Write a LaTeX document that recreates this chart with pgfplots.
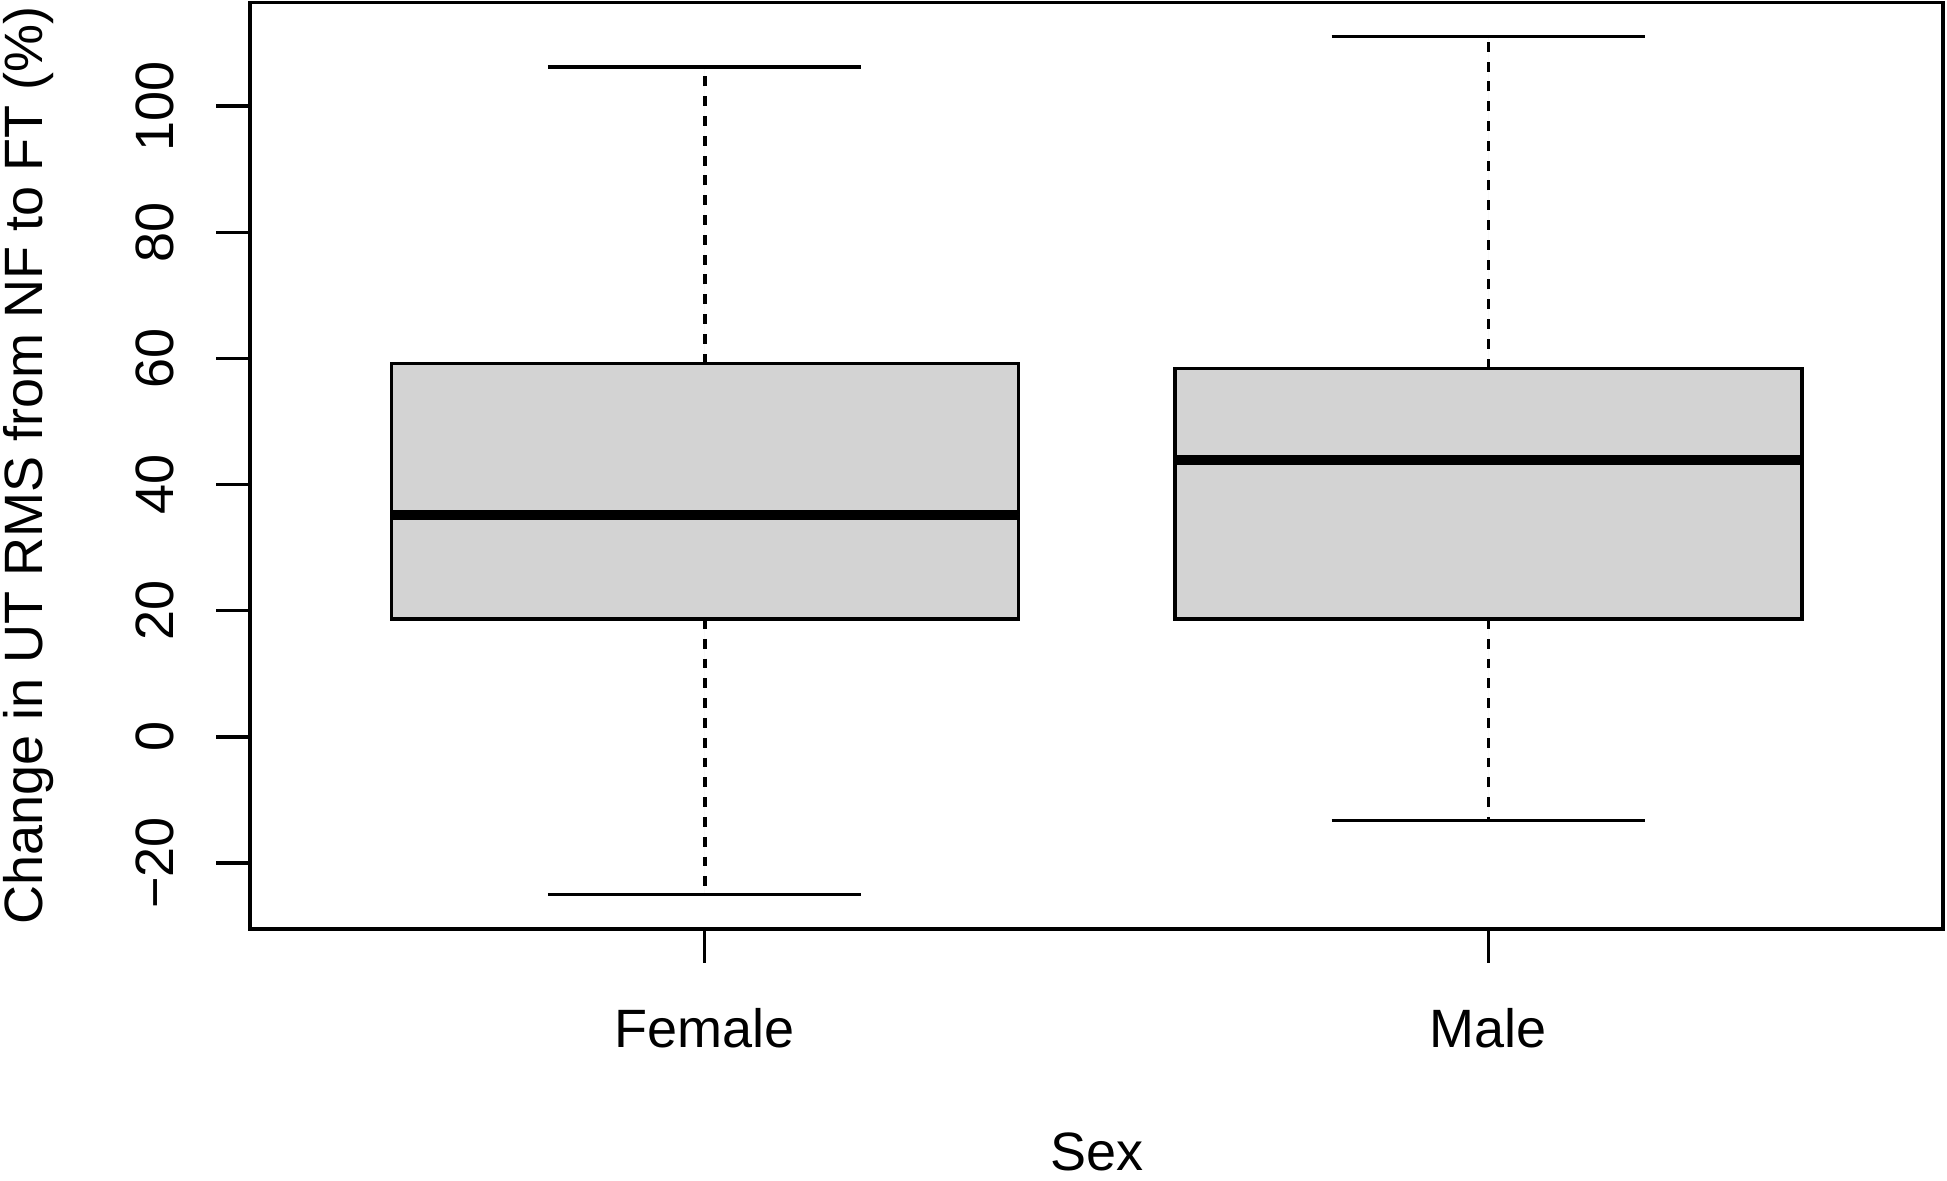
\documentclass[border=0pt]{standalone}
\usepackage{fontspec}
\setmainfont{Liberation Sans}
\usepackage{pgfplots}
\pgfplotsset{compat=1.18}
\usepgfplotslibrary{statistics}
\definecolor{boxgray}{RGB}{211,211,211}

\begin{document}
\begin{tikzpicture}
\begin{axis}[
  scale only axis,
  width=376.2pt, height=205.9pt,
  xmin=0.42, xmax=2.58,
  ymin=-30.44, ymax=116.44,
  xtick={1,2}, xticklabels={Female,Male},
  ytick={-20,0,20,40,60,80,100},
  yticklabels={−20,0,20,40,60,80,100},
  tick align=outside, tick pos=left,
  major tick length=7.55pt,
  every tick/.style={black, line width=0.75pt},
  axis line style={line width=0.75pt},
  font=\fontsize{12}{14.4}\selectfont,
  x tick label style={anchor=base, yshift=-18.85pt},
  y tick label style={xshift=-9.55pt, rotate=90, anchor=base},
  every axis x label/.style={at={(axis description cs:0.5,0)}, anchor=base, yshift=-53.6pt},
  every axis y label/.style={at={(axis description cs:0,0.5)}, xshift=-46.2pt, rotate=90, anchor=base},
  xlabel={Sex},
  ylabel={Change in UT RMS from NF to FT (\%)},
  boxplot/draw direction=y,
  boxplot/box extend=0.8,
  boxplot/whisker extend=0.4,
  boxplot/every median/.style={line width=2.25pt},
  boxplot/draw/lower whisker/.code={
    \draw[line width=0.8pt, dash pattern=on 2.2pt off 2.2pt]
      (boxplot box cs:\pgfplotsboxplotvalue{lower quartile},0.5) --
      (boxplot box cs:\pgfplotsboxplotvalue{lower whisker},0.5);
    \draw[line width=0.75pt]
      (boxplot whisker cs:\pgfplotsboxplotvalue{lower whisker},0) --
      (boxplot whisker cs:\pgfplotsboxplotvalue{lower whisker},1);
  },
  boxplot/draw/upper whisker/.code={
    \draw[line width=0.8pt, dash pattern=on 2.2pt off 2.2pt]
      (boxplot box cs:\pgfplotsboxplotvalue{upper quartile},0.5) --
      (boxplot box cs:\pgfplotsboxplotvalue{upper whisker},0.5);
    \draw[line width=0.75pt]
      (boxplot whisker cs:\pgfplotsboxplotvalue{upper whisker},0) --
      (boxplot whisker cs:\pgfplotsboxplotvalue{upper whisker},1);
  },
]
% Female
\addplot[boxplot prepared={draw position=1,
    lower whisker=-25.0, lower quartile=18.7, median=35.2,
    upper quartile=59.2, upper whisker=106.2},
  draw=black, fill=boxgray, line width=0.75pt] coordinates {};
% Male
\addplot[boxplot prepared={draw position=2,
    lower whisker=-13.2, lower quartile=18.7, median=43.9,
    upper quartile=58.4, upper whisker=111.0},
  draw=black, fill=boxgray, line width=0.75pt] coordinates {};
\end{axis}
\pgfresetboundingbox
\path[use as bounding box] (-55.6pt,-55.8pt) rectangle (377.1pt,206.45pt);
\end{tikzpicture}
\end{document}
